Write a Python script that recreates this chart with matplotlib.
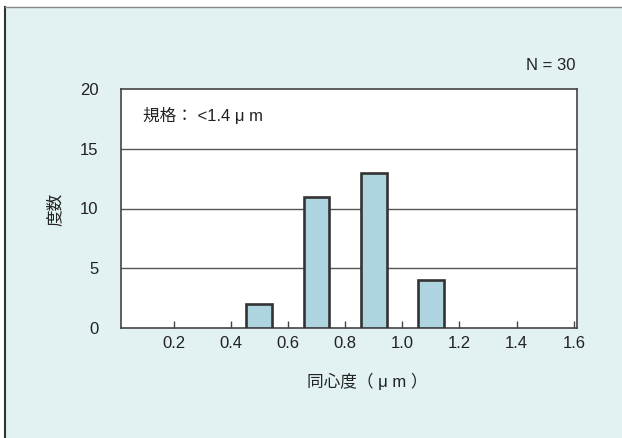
import matplotlib
matplotlib.use("Agg")
import matplotlib.pyplot as plt
from matplotlib.patches import Rectangle
from matplotlib.lines import Line2D

plt.rcParams['font.family'] = ['Liberation Sans', 'Noto Sans CJK JP', 'DejaVu Sans']

# data
bin_centers = [0.5, 0.7, 0.9, 1.1]
counts = [2, 11, 13, 4]
xticks = [0.2, 0.4, 0.6, 0.8, 1.0, 1.2, 1.4, 1.6]
xtick_labels = ["0.2", "0.4", "0.6", "0.8", "1.0", "1.2", "1.4", "1.6"]
yticks = [0, 5, 10, 15, 20]
ylabel = "度数"
xlabel = "同心度（ μ m ）"
spec_text = "規格： <1.4 μ m"
n_text = "N = 30"

W, H = 622, 438
bg = '#e2f1f2'
fig = plt.figure(figsize=(W / 100, H / 100), dpi=100)
fig.patch.set_facecolor(bg)
# white margins left/top outside the panel border
fig.patches.append(Rectangle((0, 0), 5 / W, 1, transform=fig.transFigure,
                             facecolor='white', edgecolor='none', zorder=0))
fig.patches.append(Rectangle((0, 1 - 7 / H), 1, 7 / H, transform=fig.transFigure,
                             facecolor='white', edgecolor='none', zorder=0))
fig.lines.append(Line2D([5 / W, 5 / W], [0, 1 - 7 / H], transform=fig.transFigure,
                        color='#333333', lw=1.5))
fig.lines.append(Line2D([5 / W, 1], [1 - 7 / H, 1 - 7 / H], transform=fig.transFigure,
                        color='#888888', lw=1.0))

ax = fig.add_axes([120.7 / W, 1 - 327.7 / H, (576.7 - 120.7) / W, (327.7 - 89.3) / H])
ax.set_zorder(3)
ax.set_facecolor('white')
ax.bar(bin_centers, counts, width=0.09, color='#aed4df', edgecolor='#333333',
       linewidth=1.9, zorder=3)
ax.set_xlim(0.015, 1.61)
ax.set_ylim(0, 20)
ax.set_xticks(xticks)
ax.set_xticklabels(xtick_labels)
ax.set_yticks(yticks)
for y in [5, 10, 15]:
    ax.axhline(y, color='#555555', lw=1.0, zorder=1)
for s in ax.spines.values():
    s.set_color('#444444')
    s.set_linewidth(1.2)
ax.tick_params(axis='x', direction='in', length=5, width=1.0, color='#444444',
               labelsize=12, pad=6, labelcolor='#222222')
ax.tick_params(axis='y', length=0, labelsize=12, pad=16, labelcolor='#222222')

fig.text(55 / W, 1 - 209 / H, ylabel, rotation=90, ha='center', va='center',
         fontsize=12, color='#222222')
fig.text(367 / W, 1 - 381.7 / H, xlabel, ha='center', va='center',
         fontsize=12, color='#222222')
fig.text(142.7 / W, 1 - 115.7 / H, spec_text, ha='left', va='center',
         fontsize=12, color='#222222')
fig.text(576 / W, 1 - 66 / H, n_text, ha='right', va='center',
         fontsize=12, color='#222222')

fig.savefig('out.png', dpi=100)
